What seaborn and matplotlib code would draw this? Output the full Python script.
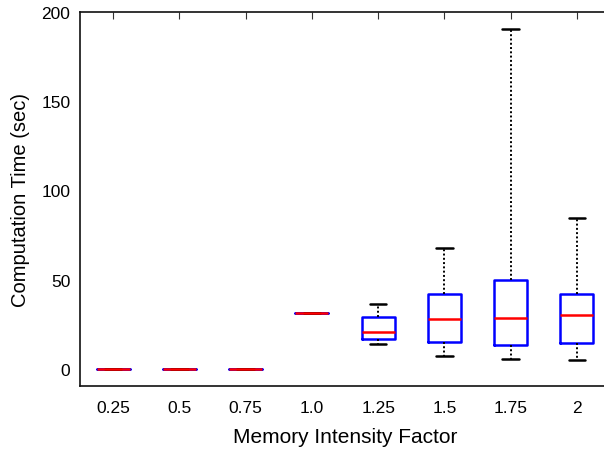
import matplotlib
matplotlib.use("Agg")
import matplotlib.pyplot as plt
import seaborn as sns
import pandas as pd

categories = ["0.25", "0.5", "0.75", "1.0", "1.25", "1.5", "1.75", "2"]
whisker_low = [0.0, 0.0, 0.0, 31.2, 14.0, 7.1, 5.4, 4.9]
q1 = [0.0, 0.0, 0.0, 31.2, 16.6, 15.0, 13.6, 14.4]
median = [0.0, 0.0, 0.0, 31.2, 20.5, 27.8, 28.7, 30.4]
q3 = [0.0, 0.0, 0.0, 31.2, 29.1, 41.8, 49.7, 42.0]
whisker_high = [0.0, 0.0, 0.0, 31.2, 36.4, 67.8, 190.5, 84.6]

rows = []
for i, c in enumerate(categories):
    for v in (whisker_low[i], q1[i], median[i], q3[i], whisker_high[i]):
        rows.append({"factor": c, "time": v})
df = pd.DataFrame(rows)

sns.set_style("white")
plt.rcParams["font.family"] = ["Liberation Sans", "DejaVu Sans"]
plt.rcParams["text.color"] = "black"
plt.rcParams["axes.labelcolor"] = "black"
plt.rcParams["xtick.labelcolor"] = "black"
plt.rcParams["ytick.labelcolor"] = "black"

fig = plt.figure(figsize=(6.04, 4.52), dpi=100)
ax = fig.add_axes([80 / 604, 1 - 386.7 / 452, (610 - 80) / 604, (386.7 - 13) / 452])

sns.boxplot(
    data=df, x="factor", y="time", order=categories, ax=ax,
    whis=(0, 100), width=0.5, fill=False, showfliers=False,
    color="#0000ff", linewidth=1.6,
    boxprops=dict(color="#0000ff", linewidth=1.8),
    medianprops=dict(color="#ff0000", linewidth=1.8),
    whiskerprops=dict(color="black", linewidth=1.4, linestyle=(0, (1, 1.2))),
    capprops=dict(color="black", linewidth=1.8),
)

ax.set_xlim(-0.5, 7.5)
ax.set_ylim(-9.4, 200)
ax.set_yticks([0, 50, 100, 150, 200])
ax.set_xlabel("Memory Intensity Factor", fontsize=15, labelpad=9, color="black")
ax.set_ylabel("Computation Time (sec)", fontsize=14.5, labelpad=8, color="black")
ax.tick_params(axis="both", direction="in", length=5, width=0.8, color="#333333",
               labelsize=12.5, top=True, right=False, labelcolor="black")
ax.tick_params(axis="x", pad=10)
ax.tick_params(axis="y", pad=7)
for s in ax.spines.values():
    s.set_visible(True)
    s.set_color("#111111")
    s.set_linewidth(1.2)

fig.savefig("out.png", dpi=100)
